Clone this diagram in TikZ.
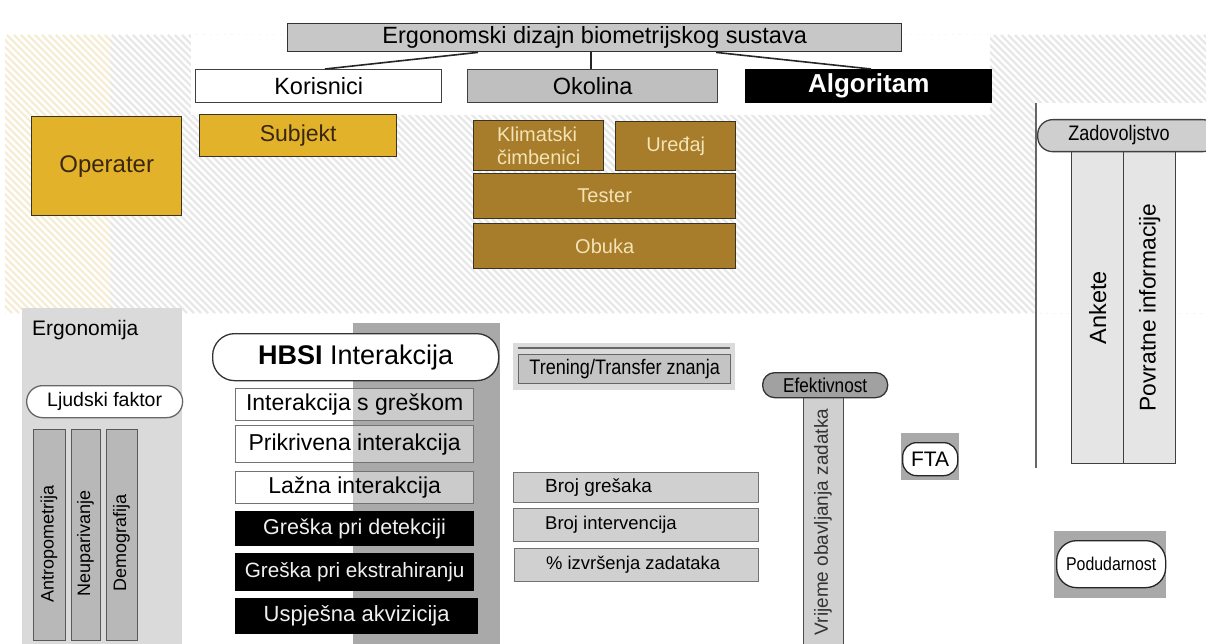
\documentclass[tikz,border=0pt]{standalone}
\usepackage{fontspec}
\setmainfont{Liberation Sans}
\newfontfamily\nar[FakeStretch=0.86]{Liberation Sans}
\newcommand\fsz[1]{\fontsize{#1}{#1}\selectfont}
\definecolor{gold}{HTML}{E2B22A}
\definecolor{brn}{HTML}{A77C2B}
\definecolor{bord}{HTML}{3A3222}
\definecolor{darktxt}{HTML}{3A2710}
\definecolor{creamtxt}{HTML}{F3E3B5}
\definecolor{midgray}{HTML}{A9A9A9}
\definecolor{lgray}{HTML}{D0D0D0}
\definecolor{panelgray}{HTML}{DADADA}
\definecolor{colgray}{HTML}{B8B8B8}
\definecolor{hatchgray}{HTML}{E8E8E8}
\definecolor{hatchyel}{HTML}{F6EDD4}
\tikzset{
  box/.style={draw=bord, line width=1.4pt, inner sep=0pt, anchor=north west, align=center},
  gbox/.style={draw=black!55, line width=1.3pt, inner sep=0pt, anchor=north west, align=center},
  lbox/.style={gbox, fill=white, fill opacity=0.4, text opacity=1, font=\fsz{23}},
  bbox/.style={gbox, draw=black, fill=black, text=white!94!black},
  vcol/.style={draw=black!65, line width=1.2pt, inner sep=0pt, anchor=north west},
  pill/.style={draw=black!80, line width=1.3pt, inner sep=0pt, anchor=north west, align=center},
  txt/.style={inner sep=0pt},
  hatchline/.style={line width=2.2pt},
}
\begin{document}
\begin{tikzpicture}[x=1pt,y=-1pt]
\useasboundingbox (0,0) rectangle (1206,644);
\clip (0,0) rectangle (1206,644);
\fill[white] (0,0) rectangle (1206,644);
% background hatching (lines running down to the right)
\begin{scope}
  \clip (110,35) rectangle (1206,313);
  \foreach \i in {-280,-273,...,1210} {
    \draw[hatchline, hatchgray] (\i,35) -- ++(278,278);
  }
\end{scope}
\begin{scope}
  \clip (5,35) rectangle (110,313);
  \foreach \i in {-280,-273,...,110} {
    \draw[hatchline, hatchyel] (\i,35) -- ++(278,278);
  }
\end{scope}
\fill[white] (191,35) rectangle (990,115);
\fill[white] (1037,103) rectangle (1206,313);

% header
\node[box, draw=black!80, fill=black!22, minimum width=614pt, minimum height=28pt, font=\fsz{23.5}] (title) at (287,23) {Ergonomski dizajn biometrijskog sustava};
\node[box, draw=black!75, fill=white, minimum width=246pt, minimum height=33pt, font=\fsz{23.5}] (kor) at (195,69) {Korisnici};
\node[box, draw=black!75, fill=black!25, minimum width=250pt, minimum height=33pt, font=\fsz{23.5}] (oko) at (467,69) {Okolina};
\node[box, draw=black, fill=black, text=white, minimum width=246pt, minimum height=33pt, font=\fsz{26}\bfseries] (alg) at (745,69) {Algoritam};
\draw[line width=1.6pt, black!85] ([xshift=191pt]title.south west) -- ([xshift=130pt]kor.north west);
\draw[line width=1.6pt, black!85] ([xshift=304pt]title.south west) -- ([xshift=124pt]oko.north west);
\draw[line width=1.6pt, black!85] ([xshift=429pt]title.south west) -- ([xshift=126pt]alg.north west);

% users
\node[box, fill=gold, text=darktxt, minimum width=150pt, minimum height=99pt, font=\fsz{24}] (oper) at (31,116) {Operater};
\node[box, fill=gold, text=darktxt, minimum width=197pt, minimum height=42pt, font=\fsz{23}] (subj) at (199,114) {Subjekt};
% environment
\node[box, fill=brn, text=creamtxt, minimum width=130pt, minimum height=50pt, align=left, font=\fsz{20}] (klim) at (473,120) {Klimatski\\[3pt]čimbenici};
\node[box, fill=brn, text=creamtxt, minimum width=120pt, minimum height=49pt, font=\fsz{20}] (ured) at (615,121) {Uređaj};
\node[box, fill=brn, text=creamtxt, minimum width=262pt, minimum height=45pt, font=\fsz{20}] (test) at (473,173) {Tester};
\node[box, fill=brn, text=creamtxt, minimum width=262pt, minimum height=45pt, font=\fsz{20}] (obuka) at (473,223) {Obuka};

% ergonomics panel
\fill[panelgray] (22,308) rectangle (182,644);
\node[txt, anchor=base west, font=\fsz{21}] (ergo) at (32,335) {Ergonomija};
\node[pill, draw=black!60, fill=white, rounded corners=16pt, minimum width=156pt, minimum height=32pt, font=\fsz{19.5}] (ljud) at (26,385) {Ljudski faktor};
\node[vcol, fill=colgray, minimum width=32pt, minimum height=211pt] (antr) at (33,429) {};
\node[vcol, fill=colgray, minimum width=29pt, minimum height=211pt] (neup) at (71,429) {};
\node[vcol, fill=colgray, minimum width=31pt, minimum height=211pt] (demo) at (106,429) {};
\node[txt, rotate=90, font=\fsz{18}] (antrT) at (49,544) {Antropometrija};
\node[txt, rotate=90, font=\fsz{18}] (neupT) at (85.5,543) {Neuparivanje};
\node[txt, rotate=90, font=\fsz{18}] (demoT) at (121.5,543) {Demografija};

% HBSI
\fill[midgray] (353,323) rectangle (500,644);
\node[pill, fill=white, rounded corners=22pt, minimum width=286pt, minimum height=47pt, font=\fsz{27}] (hbsi) at (212,333) {\textbf{HBSI} Interakcija};
\node[lbox, minimum width=238pt, minimum height=32pt] (isg) at (235,388) {Interakcija s greškom};
\node[lbox, minimum width=238pt, minimum height=37pt] (pri) at (235,425) {Prikrivena interakcija};
\node[lbox, minimum width=238pt, minimum height=32pt] (laz) at (235,471) {Lažna interakcija};
\node[bbox, minimum width=238pt, minimum height=34pt, font=\fsz{21.5}] (gpd) at (235,511) {Greška pri detekciji};
\node[bbox, minimum width=238pt, minimum height=37pt, font=\fsz{20.7}] (gpe) at (235,553) {Greška pri ekstrahiranju};
\node[bbox, minimum width=242pt, minimum height=35pt, font=\fsz{22}] (usp) at (235,598) {Uspješna akvizicija};

% training
\fill[black!14] (513,343) rectangle (735,390);
\draw[line width=2pt, black!60] (518,348) -- (730,348);
\node[gbox, draw=black!60, fill=black!23, minimum width=212pt, minimum height=29pt, font=\nar\fsz{21}] (tren) at (518,354) {Trening/Transfer znanja};

% measures
\node[gbox, fill=lgray, minimum width=245pt, minimum height=30pt] (bg) at (513,472) {};
\node[gbox, fill=lgray, minimum width=245pt, minimum height=33pt] (bi) at (513,508) {};
\node[gbox, fill=lgray, minimum width=244pt, minimum height=33pt] (pz) at (514,548) {};
\node[txt, anchor=west, font=\fsz{19}] (bgT) at ([xshift=32pt]bg.west) {Broj grešaka};
\node[txt, anchor=west, font=\fsz{18.5}] (biT) at ([xshift=32pt]bi.west) {Broj intervencija};
\node[txt, anchor=west, font=\fsz{18.4}] (pzT) at ([xshift=32pt]pz.west) {\% izvršenja zadataka};

% effectiveness
\node[vcol, draw=black!70, fill=lgray, minimum width=40pt, minimum height=250pt] (vrij) at (803,397) {};
\node[txt, rotate=90, font=\fsz{19}, text=black!80] (vrijT) at (823,522) {Vrijeme obavljanja zadatka};
\node[pill, fill=midgray!95!black, rounded corners=12pt, minimum width=125pt, minimum height=25pt, font=\nar\fsz{20}] (efek) at (762,372) {Efektivnost};

% FTA
\fill[midgray] (901,433) rectangle (959,480);
\node[pill, draw=black!85, fill=white, rounded corners=14pt, minimum width=55pt, minimum height=33pt, font=\fsz{21}] (fta) at (902,442) {FTA};

% Podudarnost
\fill[midgray] (1054,531) rectangle (1166,598);
\node[pill, draw=black!85, fill=white, rounded corners=20pt, minimum width=109pt, minimum height=47pt, font=\nar\fsz{18.5}] (podu) at (1056,540) {Podudarnost};

% satisfaction
\draw[line width=1.5pt, black!60] (1036,103) -- (1036,468);
\node[vcol, draw=black!75, fill=black!10, minimum width=52pt, minimum height=312pt] (ank) at (1071,151) {};
\node[vcol, draw=black!75, fill=black!10, minimum width=52pt, minimum height=312pt] (pov) at (1123,151) {};
\node[txt, rotate=90, font=\fsz{23.5}] (ankT) at (ank.center) {Ankete};
\node[txt, rotate=90, font=\fsz{22.8}] (povT) at (pov.center) {Povratne informacije};
\node[pill, draw=black!75, fill=black!19, rounded corners=15pt, minimum width=180pt, minimum height=32pt] (zad) at (1037,119) {};
\node[txt, font=\nar\fsz{21}] (zadT) at (1119,135) {Zadovoljstvo};
\end{tikzpicture}
\end{document}
